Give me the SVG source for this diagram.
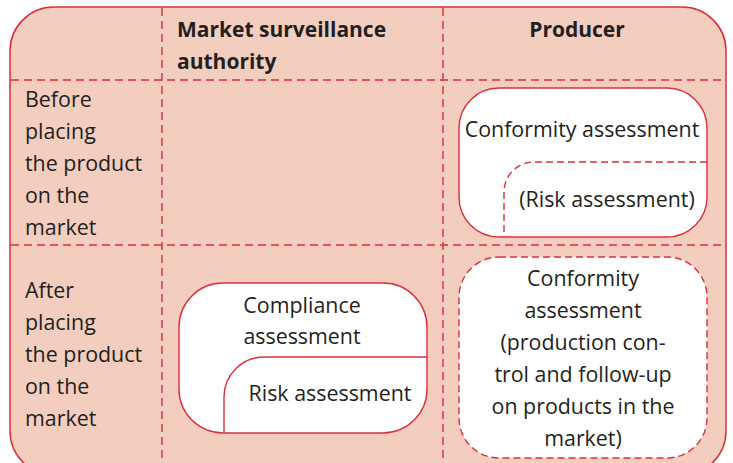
<svg xmlns="http://www.w3.org/2000/svg" width="733" height="463" viewBox="0 0 733 463">
<style>
.t{font-family:"Open Sans","Liberation Sans",sans-serif;font-size:21.4px;fill:#231f20}
.b{font-family:"Open Sans","Liberation Sans",sans-serif;font-size:21px;font-weight:bold;fill:#231f20}
.c{text-anchor:middle}
.grid{stroke:#d9303a;stroke-width:1.4;stroke-dasharray:8 5;fill:none}
.box{fill:#fff;stroke:#d9303a;stroke-width:1.4}
.dash{stroke-dasharray:7 4}
.ln{fill:none;stroke:#d9303a;stroke-width:1.4}
</style>
<g id="frame">
<rect x="10" y="7" width="716" height="468" rx="44" ry="44" fill="#f3cdbd" stroke="#d9303a" stroke-width="1.5"/>
</g>
<g id="grid">
<line class="grid" x1="162" y1="8" x2="162" y2="463"/>
<line class="grid" x1="443" y1="8" x2="443" y2="463"/>
<line class="grid" x1="11" y1="80" x2="725" y2="80"/>
<line class="grid" x1="11" y1="245" x2="725" y2="245"/>
</g>
<g id="headers">
<text class="b" x="177" y="37">Market surveillance</text>
<text class="b" x="177" y="69">authority</text>
<text class="b c" x="577" y="37">Producer</text>
</g>
<g id="row-before">
<text class="t" x="25" y="107">Before</text>
<text class="t" x="25" y="139">placing</text>
<text class="t" x="25" y="171">the product</text>
<text class="t" x="25" y="203">on the</text>
<text class="t" x="25" y="235">market</text>
</g>
<g id="row-after">
<text class="t" x="25" y="298">After</text>
<text class="t" x="25" y="330">placing</text>
<text class="t" x="25" y="362">the product</text>
<text class="t" x="25" y="394">on the</text>
<text class="t" x="25" y="426">market</text>
</g>
<g id="producer-before">
<rect class="box" x="459" y="88" width="248" height="149" rx="40" ry="40"/>
<text class="t c" x="582" y="137">Conformity assessment</text>
<path class="ln dash" d="M707,162 H534 A30,30 0 0 0 504,192 V237"/>
<text class="t c" x="607" y="207">(Risk assessment)</text>
</g>
<g id="authority-after">
<rect class="box" x="179" y="283" width="248" height="150" rx="44" ry="44"/>
<text class="t c" x="302" y="313">Compliance</text>
<text class="t c" x="302" y="344">assessment</text>
<path class="ln" d="M427,357 H264 A40,40 0 0 0 224,397 V433"/>
<text class="t c" x="330" y="401">Risk assessment</text>
</g>
<g id="producer-after">
<rect class="box dash" x="459" y="257" width="248" height="201" rx="40" ry="40"/>
<text class="t c" x="583" y="286">Conformity</text>
<text class="t c" x="583" y="318">assessment</text>
<text class="t c" x="583" y="350">(production con-</text>
<text class="t c" x="583" y="382">trol and follow-up</text>
<text class="t c" x="583" y="414">on products in the</text>
<text class="t c" x="583" y="446">market)</text>
</g>
</svg>
